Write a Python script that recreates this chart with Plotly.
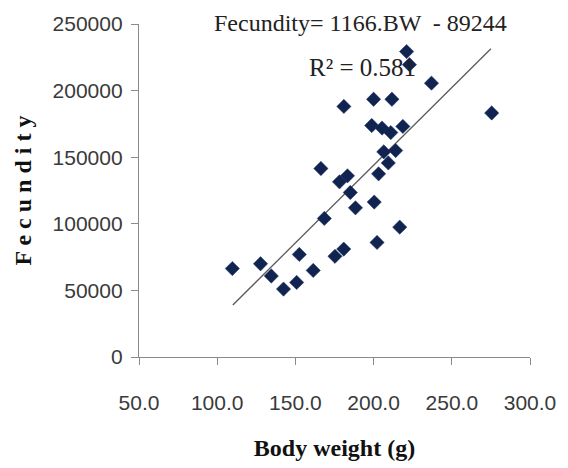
import plotly.graph_objects as go

body_weight = [109.7, 127.7, 134.6, 142.4, 150.8, 152.5, 161.4, 175.3, 180.9, 202.2,
               168.5, 216.7, 188.4, 200.4, 185.1, 178.2, 183.3, 203.2, 166.3, 209.4,
               206.5, 214.1, 198.8, 205.4, 211.0, 218.7, 181.0, 200.0, 211.7, 237.0,
               222.9, 221.1, 275.5]
fecundity = [66400, 70000, 60800, 51000, 56000, 77000, 65000, 75600, 81000, 86000,
             104000, 97500, 112000, 116300, 123500, 131500, 136000, 137500, 141500, 145700,
             154000, 155000, 173800, 171900, 168500, 173100, 188100, 193500, 193500, 205600,
             219500, 229300, 183200]

slope = 1166
intercept = -89244
trend_x = [110, 275]
trend_y = [slope * x + intercept for x in trend_x]

x_ticks = [50, 100, 150, 200, 250, 300]
x_tick_labels = ["50.0", "100.0", "150.0", "200.0", "250.0", "300.0"]
y_ticks = [0, 50000, 100000, 150000, 200000, 250000]
y_tick_labels = ["0", "50000", "100000", "150000", "200000", "250000"]

tick_font = dict(family="Liberation Sans, Arial, sans-serif", size=21, color="#3a3a3a")
serif = "Liberation Serif, Times New Roman, serif"

fig = go.Figure()
fig.add_trace(go.Scatter(
    x=trend_x, y=trend_y, mode="lines",
    line=dict(color="#5a5a5a", width=1.3), showlegend=False, hoverinfo="skip"))
fig.add_trace(go.Scatter(
    x=body_weight, y=fecundity, mode="markers",
    marker=dict(symbol="diamond", size=11, color="#11234f",
                line=dict(color="#1c3570", width=0.5)),
    showlegend=False))

fig.add_annotation(x=0.567, y=1.003, xref="paper", yref="paper",
                   text="Fecundity= 1166.BW  - 89244", showarrow=False,
                   font=dict(family=serif, size=24, color="#222"),
                   xanchor="center", yanchor="middle")
fig.add_annotation(x=0.572, y=0.868, xref="paper", yref="paper",
                   text="R² = 0.581", showarrow=False,
                   font=dict(family=serif, size=25, color="#222"),
                   xanchor="center", yanchor="middle")

fig.update_layout(
    width=568, height=468,
    margin=dict(l=139, r=34, t=24, b=110),
    paper_bgcolor="white", plot_bgcolor="white",
    xaxis=dict(range=[50, 300], tickvals=x_ticks, ticktext=x_tick_labels,
               showgrid=False, zeroline=False, showline=True, linecolor="#8a8a8a",
               linewidth=1.3, ticks="outside", ticklen=7, tickcolor="#8a8a8a",
               tickfont=tick_font, ticklabelstandoff=20,
               title=dict(text="<b>Body weight (g)</b>",
                          font=dict(family=serif, size=24, color="#111"), standoff=25)),
    yaxis=dict(range=[0, 250000], tickvals=y_ticks, ticktext=y_tick_labels,
               showgrid=False, zeroline=False, showline=True, linecolor="#8a8a8a",
               linewidth=1.3, ticks="outside", ticklen=7, tickcolor="#8a8a8a",
               tickfont=tick_font, ticklabelstandoff=4,
               title=dict(text="<b>F e c u n d i t y</b>",
                          font=dict(family=serif, size=24, color="#111"), standoff=14)),
)

fig.write_html("out.html")
